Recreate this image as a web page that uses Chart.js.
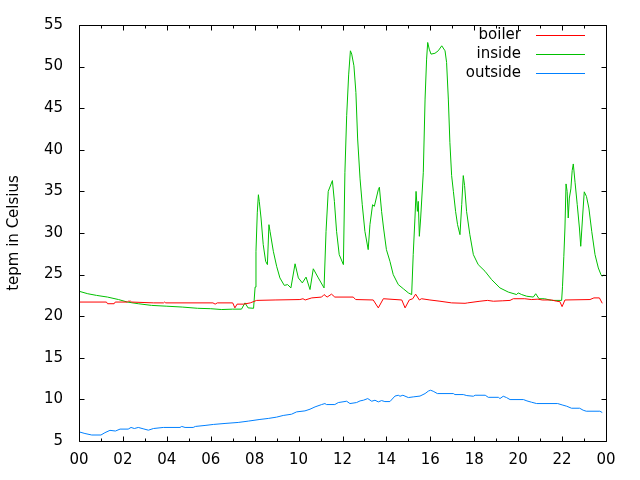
<!DOCTYPE html>
<html>
<head>
<meta charset="utf-8">
<script src="https://cdn.jsdelivr.net/npm/chart.js@4/dist/chart.umd.min.js"></script>
<style>
html,body{margin:0;padding:0;background:#fff;}
#wrap{width:640px;height:480px;}
</style>
</head>
<body>
<div id="wrap"><canvas id="c" width="640" height="480"></canvas></div>
<script>
// ---- data (hours of day, temperature in Celsius) ----
const xTickLabels = ["00","02","04","06","08","10","12","14","16","18","20","22","00"];
const seriesNames = ["boiler", "inside", "outside"];
const seriesColors = ["#ff0000", "#00c000", "#0080ff"];

const boilerHours = [0.0,1.25,1.3,1.6,1.65,2.2,2.25,2.35,2.4,3.4,3.85,3.9,3.95,6.1,6.2,6.3,7.0,7.1,7.2,7.5,7.8,8.09,8.93,10.06,10.2,10.3,10.6,11.05,11.16,11.3,11.5,11.65,12.49,12.6,13.4,13.63,13.86,14.7,14.85,15.04,15.2,15.33,15.5,15.6,15.98,16.44,16.97,17.58,17.7,18.26,18.6,18.87,19.3,19.63,19.78,20.3,20.6,20.9,21.1,21.52,21.75,21.9,22.0,22.13,23.27,23.45,23.7,23.83];
const boilerTemps = [21.7,21.7,21.5,21.5,21.7,21.7,21.8,21.8,21.7,21.6,21.6,21.7,21.6,21.6,21.45,21.6,21.6,21.0,21.45,21.45,21.6,21.9,21.95,22.0,22.1,21.95,22.2,22.3,22.6,22.3,22.65,22.3,22.3,22.0,21.95,21.0,22.1,21.95,21.0,21.95,22.1,22.65,21.95,22.1,21.95,21.8,21.6,21.55,21.6,21.8,21.9,21.8,21.85,21.9,22.1,22.1,22.0,22.05,21.95,21.95,21.8,21.75,21.15,21.95,22.0,22.2,22.2,21.55];

const insideHours = [0.0,0.4,0.8,1.3,1.8,2.2,2.7,3.3,4.0,4.7,5.4,6.0,6.5,7.0,7.4,7.56,7.7,7.95,8.02,8.06,8.12,8.17,8.21,8.29,8.39,8.5,8.58,8.65,8.7,8.85,9.0,9.15,9.35,9.5,9.65,9.84,9.99,10.17,10.34,10.52,10.67,10.9,11.16,11.25,11.35,11.54,11.63,11.73,11.85,12.04,12.11,12.19,12.28,12.36,12.42,12.52,12.61,12.69,12.8,12.9,13.02,13.17,13.25,13.37,13.45,13.63,13.68,13.78,13.87,14.0,14.16,14.31,14.54,14.77,15.0,15.15,15.22,15.3,15.35,15.41,15.45,15.5,15.56,15.68,15.76,15.83,15.88,15.95,16.03,16.21,16.36,16.52,16.67,16.74,16.82,16.89,16.97,17.05,17.15,17.24,17.35,17.43,17.5,17.56,17.65,17.8,17.96,18.18,18.49,18.79,19.17,19.55,19.93,20.0,20.16,20.39,20.69,20.8,20.95,21.2,21.52,21.98,22.02,22.08,22.13,22.18,22.23,22.28,22.33,22.4,22.46,22.51,22.59,22.69,22.79,22.85,22.93,23.01,23.11,23.22,23.35,23.5,23.65,23.77,23.83,23.9];
const insideTemps = [23.0,22.7,22.5,22.3,22.0,21.7,21.5,21.3,21.2,21.1,20.95,20.9,20.8,20.85,20.85,21.6,21.0,20.95,23.5,27.8,32.5,34.6,33.8,31.8,28.6,26.6,26.2,31.0,30.2,27.8,26.0,24.6,23.7,23.8,23.4,26.3,24.6,24.0,24.7,23.2,25.7,24.6,23.4,30.2,35.0,36.3,33.8,30.2,27.4,26.2,37.3,44.1,49.0,51.9,51.5,50.1,46.9,41.3,36.5,33.4,30.2,28.0,31.0,33.4,33.2,35.2,35.5,32.6,30.6,28.0,26.6,25.0,23.8,23.3,22.8,22.6,27.4,31.8,35.0,32.6,33.8,29.6,31.8,37.3,46.1,50.9,52.9,52.1,51.5,51.6,51.9,52.5,51.9,50.5,46.1,40.9,36.9,35.0,32.6,31.0,29.8,33.4,36.9,35.7,32.6,29.8,27.4,26.2,25.4,24.4,23.4,22.9,22.6,22.8,22.6,22.4,22.3,22.7,22.1,22.1,21.9,21.9,23.6,27.2,30.6,35.9,35.0,31.8,34.2,35.3,37.5,38.3,36.1,33.4,30.6,28.4,31.8,34.95,34.4,33.0,30.2,27.4,25.8,25.0,24.8,25.0];

const outsideHours = [0.0,0.27,0.58,1.0,1.18,1.41,1.66,1.87,2.24,2.37,2.52,2.7,2.92,3.16,3.39,3.84,4.6,4.68,4.83,5.2,5.3,5.74,6.12,6.65,7.25,7.71,8.24,8.62,9.0,9.3,9.68,9.91,10.29,10.52,10.75,11.05,11.2,11.27,11.65,11.81,12.19,12.34,12.64,12.8,12.95,13.15,13.33,13.48,13.63,13.78,13.93,14.16,14.39,14.54,14.62,14.75,15.0,15.22,15.53,15.76,15.91,16.01,16.13,16.32,17.05,17.12,17.5,17.66,17.96,18.04,18.5,18.64,19.1,19.17,19.32,19.47,19.63,20.24,20.4,20.61,20.84,21.8,22.0,22.21,22.43,22.8,22.96,23.1,23.72,23.83];
const outsideTemps = [6.1,5.9,5.72,5.72,6.0,6.28,6.2,6.43,6.43,6.63,6.5,6.63,6.47,6.3,6.5,6.63,6.63,6.75,6.63,6.63,6.75,6.87,6.99,7.11,7.23,7.39,7.59,7.71,7.87,8.07,8.22,8.5,8.62,8.82,9.1,9.38,9.5,9.38,9.38,9.62,9.78,9.5,9.62,9.82,9.9,10.1,9.78,9.9,9.7,9.86,9.74,9.74,10.4,10.5,10.38,10.5,10.22,10.3,10.4,10.7,11.0,11.1,10.98,10.7,10.7,10.58,10.58,10.46,10.38,10.5,10.5,10.25,10.25,10.1,10.38,10.22,9.98,9.98,9.82,9.66,9.5,9.5,9.34,9.18,8.94,8.94,8.7,8.58,8.58,8.42];

const yTitle = "tepm in Celsius";

// ---- build chart ----
const FONT = "DejaVu Sans";
function pts(h, t){ return h.map((x,i)=>({x:x, y:t[i]})); }
const allHours = [boilerHours, insideHours, outsideHours];
const allTemps = [boilerTemps, insideTemps, outsideTemps];

const datasets = seriesNames.map((n,i)=>({
  label: n,
  data: pts(allHours[i], allTemps[i]),
  borderColor: seriesColors[i],
  backgroundColor: seriesColors[i],
  borderWidth: 1,
  pointRadius: 0,
  tension: 0,
  fill: false
}));

const framePlugin = {
  id: 'frame',
  afterDraw(chart){
    const ctx = chart.ctx, a = chart.chartArea;
    const xs = chart.scales.x, ys = chart.scales.y;
    ctx.save();
    ctx.strokeStyle = '#000';
    ctx.lineWidth = 1;
    const L = Math.round(a.left)+0.5, R = Math.round(a.right)+0.5, T = Math.round(a.top)+0.5, B = Math.round(a.bottom)+0.5;
    ctx.beginPath();
    ctx.rect(L, T, R-L, B-T);
    // x ticks (major every 2h, minor every 1h), bottom and top, inward
    for (let h = 0; h <= 24; h++) {
      const len = (h % 2 === 0) ? 5 : 3;
      const px = Math.round(xs.getPixelForValue(h)) + 0.5;
      ctx.moveTo(px, B); ctx.lineTo(px, B - len);
      ctx.moveTo(px, T); ctx.lineTo(px, T + len);
    }
    // y ticks, left and right, inward
    for (let v = 5; v <= 55; v += 5) {
      const py = Math.round(ys.getPixelForValue(v)) + 0.5;
      ctx.moveTo(L, py); ctx.lineTo(L + 5, py);
      ctx.moveTo(R, py); ctx.lineTo(R - 5, py);
    }
    ctx.stroke();
    // legend (gnuplot style, top right)
    ctx.font = "15px '" + FONT + "'";
    ctx.textAlign = 'right';
    ctx.textBaseline = 'middle';
    const rowY = [35, 54, 73];
    seriesNames.forEach((n,i)=>{
      ctx.fillStyle = '#000';
      ctx.fillText(n, 521, rowY[i]);
      ctx.strokeStyle = seriesColors[i];
      ctx.beginPath();
      ctx.moveTo(536, rowY[i]+0.5); ctx.lineTo(585, rowY[i]+0.5);
      ctx.stroke();
    });
    ctx.restore();
  }
};

new Chart(document.getElementById('c'), {
  type: 'line',
  data: { datasets },
  options: {
    responsive: false,
    animation: false,
    devicePixelRatio: 1,
    layout: { padding: { top: 22, right: 34, left: 0, bottom: 0 } },
    plugins: { legend: { display: false }, tooltip: { enabled: false } },
    scales: {
      x: {
        type: 'linear', min: 0, max: 24,
        grid: { display: false, drawTicks: false, tickLength: 0 },
        border: { display: false },
        afterFit: s => { s.height = 39; },
        afterBuildTicks: s => { s.ticks = xTickLabels.map((l,i)=>({ value: i*2 })); },
        ticks: {
          autoSkip: false, maxRotation: 0, padding: 10, color: '#000',
          font: { family: FONT, size: 15 },
          callback: (v, i) => xTickLabels[i]
        }
      },
      y: {
        type: 'linear', min: 5, max: 55,
        grid: { display: false, drawTicks: false, tickLength: 0 },
        border: { display: false },
        afterFit: s => { s.width = 79; },
        ticks: { stepSize: 5, padding: 16, color: '#000', font: { family: FONT, size: 15 } },
        title: { display: true, text: yTitle, color: '#000', font: { family: FONT, size: 15 }, padding: { top: 5, bottom: 0 } }
      }
    }
  },
  plugins: [framePlugin]
});
</script>
</body>
</html>
